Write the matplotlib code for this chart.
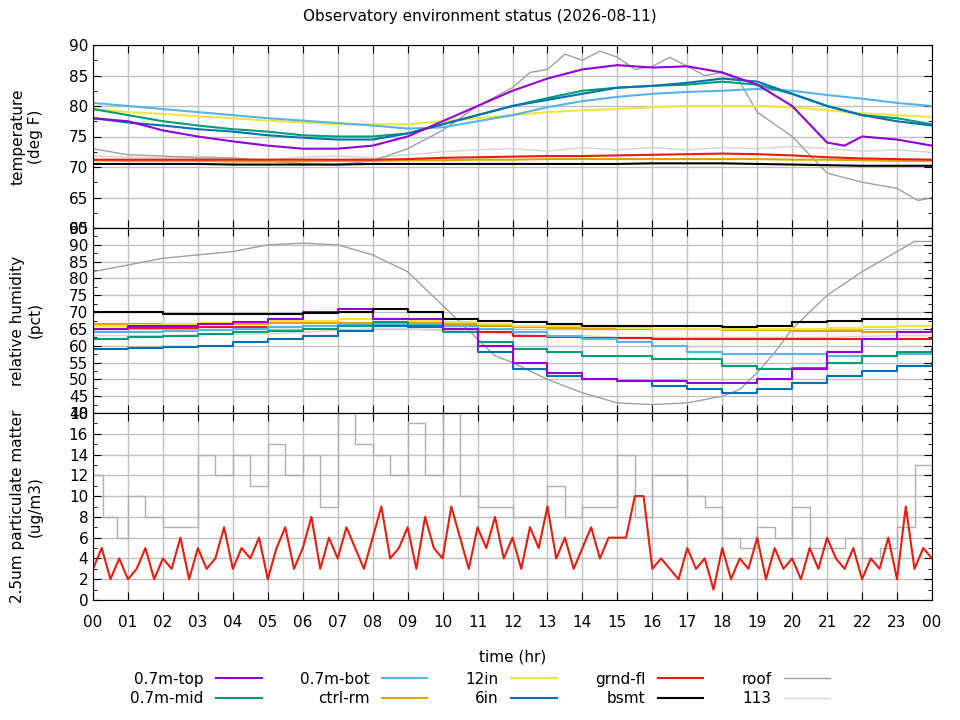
import numpy as np
import matplotlib
matplotlib.use('Agg')
import matplotlib.pyplot as plt
from matplotlib.ticker import MultipleLocator, AutoMinorLocator

# ---- temperature (deg F) ----
t_hr = list(range(25))
temp_top_x = [0, 1, 2, 3, 4, 5, 6, 7, 8, 9, 10, 11, 12, 13, 14, 15, 16, 17, 18, 19, 20, 21, 21.5, 22, 23, 24]
temp_top = [78, 77.5, 76, 75, 74.2, 73.5, 73, 73, 73.5, 75, 77.5, 80, 82.5, 84.5, 86, 86.7, 86.3, 86.5, 85.5, 83.5, 80, 74, 73.5, 75, 74.5, 73.5]
temp_mid = [79.5, 78.5, 77.5, 76.8, 76.2, 75.8, 75.2, 75, 75, 75.5, 77, 78.5, 80, 81.3, 82.5, 83, 83.3, 83.5, 84, 83.5, 82, 80, 78.5, 78, 77]
temp_bot = [80.5, 80, 79.5, 79, 78.5, 78, 77.6, 77.2, 76.8, 76.3, 76.5, 77.5, 78.5, 79.8, 80.8, 81.5, 82, 82.3, 82.5, 82.8, 82.5, 81.8, 81.2, 80.5, 80]
temp_12in = [79.5, 79, 78.7, 78.3, 78, 77.6, 77.3, 77, 77, 77, 77.5, 78, 78.5, 79, 79.3, 79.5, 79.8, 80, 80, 80, 79.8, 79.3, 78.8, 78.5, 78.2]
temp_6in = [78, 77.3, 76.8, 76.2, 75.8, 75.2, 74.8, 74.5, 74.5, 75.5, 77, 78.5, 80, 81, 82, 83, 83.3, 83.8, 84.5, 84, 82, 80, 78.5, 77.5, 76.8]
temp_ctrl = [71.1, 71.0, 71.0, 71.0, 70.9, 70.9, 70.9, 71.0, 71.0, 71.1, 71.1, 71.2, 71.2, 71.3, 71.3, 71.3, 71.3, 71.3, 71.3, 71.3, 71.2, 71.2, 71.1, 71.0, 71.0]
temp_grnd = [71.2, 71.2, 71.2, 71.2, 71.2, 71.2, 71.2, 71.2, 71.2, 71.3, 71.5, 71.6, 71.7, 71.8, 71.8, 71.9, 72.0, 72.1, 72.2, 72.1, 71.9, 71.6, 71.4, 71.3, 71.2]
temp_bsmt = [70.5, 70.5, 70.5, 70.5, 70.4, 70.4, 70.4, 70.4, 70.5, 70.5, 70.5, 70.5, 70.5, 70.5, 70.5, 70.5, 70.6, 70.6, 70.6, 70.5, 70.4, 70.3, 70.2, 70.2, 70.2]
temp_roof_x = [0, 1, 2, 3, 4, 5, 6, 7, 8, 9, 10, 11, 12, 12.5, 13, 13.5, 14, 14.5, 15, 15.5, 16, 16.5, 17, 17.5, 18, 18.5, 19, 20, 21, 22, 23, 23.6, 24]
temp_roof = [73, 72, 71.8, 71.5, 71.5, 71, 70.5, 70.4, 71, 73, 76, 80, 83, 85.5, 86, 88.5, 87.5, 89, 88, 86, 86.5, 88, 86.5, 85, 85.5, 84, 79, 75, 69, 67.5, 66.5, 64.5, 65]
temp_113 = [71.8, 71.6, 71.5, 71.8, 71.4, 71.2, 71.6, 71.8, 71.5, 72, 72.5, 72.8, 73, 72.6, 73.2, 72.8, 73.2, 72.8, 73.2, 73, 73.4, 73, 72.6, 72.8, 72.4]

# ---- relative humidity (pct) ----
hum_roof_x = [0, 1, 2, 3, 4, 5, 6, 7, 8, 9, 10, 11, 11.5, 12, 13, 14, 15, 16, 17, 18, 18.5, 19, 19.5, 20, 21, 22, 23, 23.5, 24]
hum_roof = [82, 84, 86, 87, 88, 90, 90.5, 90, 87, 82, 72, 62, 57, 55, 50, 46, 43, 42.5, 43, 45, 47, 52, 58, 65, 75, 82, 88, 91, 91]
hum_top = [65, 66, 66, 66.5, 67, 68, 70, 71, 68, 68, 65, 60, 55, 52, 50, 49.5, 49.5, 49, 49, 50, 53, 58, 62, 64, 65]
hum_mid = [62, 62.5, 63, 63.5, 64, 64.5, 65, 66, 67, 66, 64, 61, 59, 58, 57, 57, 56, 56, 54, 53, 53.5, 55, 57, 58, 59]
hum_bot = [64, 64.2, 64.5, 64.8, 65, 65.5, 66, 66.2, 66.5, 66.5, 66, 65, 64, 63, 62, 61, 60, 58, 57.5, 57.5, 57.5, 57, 57, 57.5, 58]
hum_12in = [66, 66.2, 66.5, 66.8, 67, 67.3, 67.5, 67.8, 68, 67.5, 67, 66.5, 66, 65.8, 65.5, 65.3, 65, 65, 65, 65, 65, 65.2, 65.5, 65.8, 66]
hum_6in = [59, 59.2, 59.5, 60, 61, 62, 63, 64.5, 66, 66, 65, 58, 53, 51, 50, 49.5, 48, 47, 46, 47, 49, 51, 52.5, 54, 55]
hum_ctrl = [66.5, 66.5, 66.5, 66.6, 66.6, 66.7, 66.7, 66.8, 66.8, 66.8, 66.5, 66, 65.5, 65.3, 65, 65, 65, 65, 64.8, 64.6, 64.5, 64.3, 64.2, 64, 64]
hum_grnd = [65, 65.2, 65.4, 65.5, 65.6, 65.7, 65.8, 65.9, 66, 65.5, 65, 64, 63, 62.5, 62.3, 62.2, 62, 62, 62, 62, 62, 62, 62, 62, 62]
hum_bsmt = [70, 70, 69.5, 69.5, 69.5, 69.5, 69.7, 70, 71, 70, 68, 67.5, 67, 66.5, 66, 66, 66, 66, 65.5, 66, 67, 67.5, 68, 68, 68]
hum_113 = [63, 63, 63, 63.2, 63.5, 63.5, 64, 64.5, 65, 65, 64.5, 64, 63.5, 63, 63, 62.5, 62.5, 62.5, 62.5, 62.5, 62.5, 62.5, 62.8, 63, 63]

# ---- PM2.5 (ug/m3) ----
pm_gray_x = [0, 0.3, 0.7, 1, 1.5, 2, 2.5, 3, 3.5, 4, 4.5, 5, 5.5, 6, 6.5, 7, 7.5, 8, 8.5, 9, 9.5, 10, 10.5, 11, 11.5,
             12, 12.5, 13, 13.5, 14, 14.5, 15, 15.5, 16, 16.5, 17, 17.5, 18, 18.5, 19, 19.5, 20, 20.5, 21, 21.5, 22, 22.5, 23, 23.5, 24]
pm_gray = [12, 8, 6, 10, 8, 7, 7, 14, 12, 14, 11, 15, 12, 14, 9, 18, 15, 14, 12, 17, 12, 18, 10, 9, 9,
           8, 8, 11, 8, 9, 9, 14, 8, 12, 12, 10, 9, 6, 5, 7, 6, 9, 5, 5, 6, 4, 5, 7, 13, 12]
pm_red = [3, 5, 2, 4, 2, 3, 5, 2, 4, 3, 6, 2, 5, 3, 4, 7, 3, 5, 4, 6, 2, 5, 7, 3, 5, 8, 3, 6, 4, 7, 5, 3,
          6, 9, 4, 5, 7, 3, 8, 5, 4, 9, 6, 3, 7, 5, 8, 4, 6, 3, 7, 5, 9, 4, 6, 3, 5, 7, 4, 6, 6, 6, 10, 10,
          3, 4, 3, 2, 5, 3, 4, 1, 5, 2, 4, 3, 6, 2, 5, 3, 4, 2, 5, 3, 6, 4, 3, 5, 2, 4, 3, 6, 2, 9, 3, 5, 4]

colors = {
    '0.7m-top': '#9400d3', '0.7m-mid': '#009e73', '0.7m-bot': '#56b4e9', 'ctrl-rm': '#e69f00',
    '12in': '#f0e442', '6in': '#0072b2', 'grnd-fl': '#e51e10', 'bsmt': '#000000',
    'roof': '#a0a0a0', '113': '#d3d3d3',
}

fig = plt.figure(figsize=(9.6, 7.2), dpi=100)
L, W = 93 / 960, (932 - 93) / 960
ax1 = fig.add_axes([L, 1 - 228 / 720, W, 183 / 720])
ax2 = fig.add_axes([L, 1 - 413 / 720, W, 185 / 720])
ax3 = fig.add_axes([L, 1 - 600 / 720, W, 187 / 720])

ax1.plot(t_hr, temp_113, color=colors['113'], lw=1)
ax1.plot(temp_roof_x, temp_roof, color=colors['roof'], lw=1)
ax1.plot(t_hr, temp_bsmt, color=colors['bsmt'], lw=1.5)
ax1.plot(t_hr, temp_ctrl, color=colors['ctrl-rm'], lw=1.5)
ax1.plot(t_hr, temp_grnd, color=colors['grnd-fl'], lw=1.5)
ax1.plot(t_hr, temp_12in, color=colors['12in'], lw=1.5)
ax1.plot(t_hr, temp_bot, color=colors['0.7m-bot'], lw=1.5)
ax1.plot(t_hr, temp_mid, color=colors['0.7m-mid'], lw=1.5)
ax1.plot(t_hr, temp_6in, color=colors['6in'], lw=1.5)
ax1.plot(temp_top_x, temp_top, color=colors['0.7m-top'], lw=1.5)

ax2.plot(t_hr, hum_113, color=colors['113'], lw=1)
ax2.plot(hum_roof_x, hum_roof, color=colors['roof'], lw=1)
ax2.step(t_hr, hum_ctrl, where='post', color=colors['ctrl-rm'], lw=1.5)
ax2.step(t_hr, hum_12in, where='post', color=colors['12in'], lw=1.5)
ax2.step(t_hr, hum_grnd, where='post', color=colors['grnd-fl'], lw=1.5)
ax2.step(t_hr, hum_bot, where='post', color=colors['0.7m-bot'], lw=1.5)
ax2.step(t_hr, hum_mid, where='post', color=colors['0.7m-mid'], lw=1.5)
ax2.step(t_hr, hum_6in, where='post', color=colors['6in'], lw=1.5)
ax2.step(t_hr, hum_top, where='post', color=colors['0.7m-top'], lw=1.5)
ax2.step(t_hr, hum_bsmt, where='post', color=colors['bsmt'], lw=1.5)

ax3.step(pm_gray_x, pm_gray, where='post', color='#b0b0b0', lw=1)
pm_red_x = np.arange(len(pm_red)) * 0.25
ax3.plot(pm_red_x, pm_red, color=colors['grnd-fl'], lw=1.5)

ax1.set_ylim(60, 90); ax1.yaxis.set_major_locator(MultipleLocator(5))
ax2.set_ylim(40, 95); ax2.yaxis.set_major_locator(MultipleLocator(5))
ax3.set_ylim(0, 18); ax3.yaxis.set_major_locator(MultipleLocator(2))
ax1.set_ylabel('temperature\n(deg F)', fontsize=11)
ax2.set_ylabel('relative humidity\n(pct)', fontsize=11)
ax3.set_ylabel('2.5um particulate matter\n(ug/m3)', fontsize=11)

for ax in (ax1, ax2, ax3):
    ax.set_xlim(0, 24)
    ax.xaxis.set_major_locator(MultipleLocator(1))
    ax.yaxis.set_minor_locator(AutoMinorLocator(2))
    ax.grid(True, color='#c0c0c0', lw=1)
    ax.set_axisbelow(True)
    ax.tick_params(direction='in', top=True, right=True, which='both', labelsize=11)
    ax.tick_params(which='major', length=6)
    ax.tick_params(which='minor', length=3)
    ax.yaxis.set_label_coords(-0.06, 0.5)
ax1.tick_params(labelbottom=False)
ax2.tick_params(labelbottom=False)
ax3.set_xticks(range(25))
ax3.set_xticklabels(['%02d' % (h % 24) for h in range(25)])
ax3.tick_params(axis='x', pad=11)
ax3.set_xlabel('time (hr)', fontsize=11, labelpad=14)

fig.suptitle('Observatory environment status (2026-08-11)', y=0.988, fontsize=11)

order = ['0.7m-top', '0.7m-mid', '0.7m-bot', 'ctrl-rm', '12in', '6in', 'grnd-fl', 'bsmt', 'roof', '113']
handles = [plt.Line2D([], [], color=colors[k], lw=1.5 if k not in ('roof', '113') else 1) for k in order]
fig.legend(handles, order, loc='lower center', bbox_to_anchor=(0.5, 0.0), ncol=5, frameon=False,
           markerfirst=False, fontsize=11, handlelength=3, columnspacing=2.5, labelspacing=0.3)

plt.savefig('out.png', dpi=100)
